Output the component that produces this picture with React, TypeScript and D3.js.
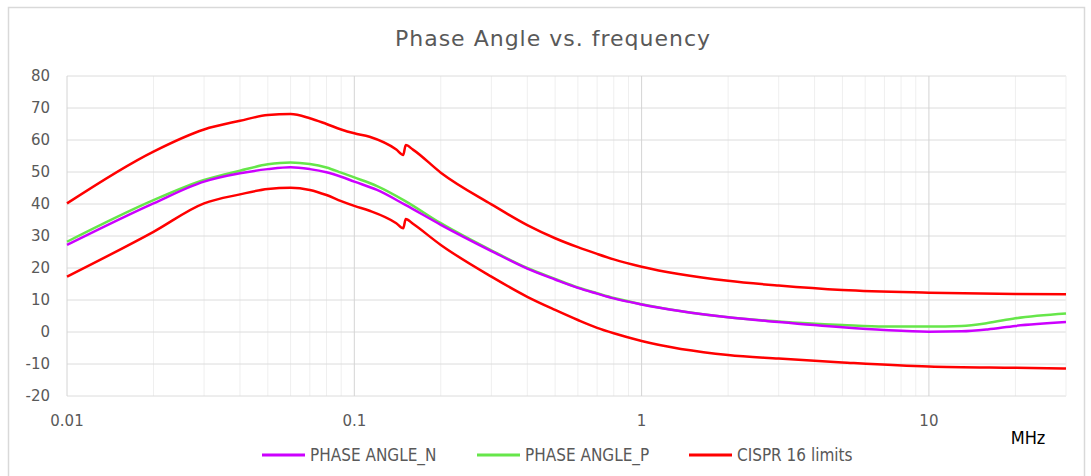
import React from "react";
import * as d3 from "d3";

// ---- data (frequency in MHz, phase angle in degrees) ----
const freqPhase = [0.01, 0.02, 0.03, 0.04, 0.05, 0.06, 0.07, 0.08, 0.09, 0.1, 0.12, 0.15, 0.2, 0.3, 0.4, 0.5, 0.6, 0.7, 0.8, 1, 2, 3, 5, 7, 10, 13, 16, 20, 30];
const phaseN = [27.2, 40.2, 47.0, 49.6, 50.9, 51.5, 50.9, 49.9, 48.5, 47.0, 44.4, 39.8, 33.5, 25.3, 19.8, 16.4, 13.8, 12.0, 10.5, 8.6, 4.6, 3.1, 1.45, 0.6, 0.1, 0.2, 0.8, 1.9, 3.1];
const phaseP = [28.2, 41.2, 47.5, 50.4, 52.4, 53.0, 52.5, 51.4, 49.8, 48.3, 45.6, 41.0, 34.0, 25.5, 20.0, 16.6, 13.9, 12.1, 10.6, 8.7, 4.6, 3.3, 2.2, 1.7, 1.7, 1.9, 2.8, 4.3, 5.8];

const freqLimit = [0.01, 0.02, 0.03, 0.04, 0.05, 0.06, 0.07, 0.08, 0.09, 0.1, 0.113, 0.14, 0.148, 0.151, 0.16, 0.2, 0.3, 0.4, 0.5, 0.6, 0.7, 0.8, 1, 2, 3, 5, 10, 20, 30];
const limitUpper = [40.2, 56.4, 63.3, 66.0, 67.8, 68.1, 66.8, 65.0, 63.3, 62.1, 61.0, 57.0, 55.3, 58.4, 57.0, 49.8, 39.9, 33.4, 29.3, 26.5, 24.4, 22.7, 20.4, 16.0, 14.5, 13.1, 12.3, 11.9, 11.8];
const limitLower = [17.3, 31.3, 40.2, 43.0, 44.7, 45.1, 44.4, 42.8, 40.9, 39.4, 37.9, 34.0, 32.4, 35.3, 33.8, 27.2, 17.3, 11.0, 6.9, 3.75, 1.3, -0.4, -2.8, -7.2, -8.3, -9.5, -10.8, -11.2, -11.4];

const yTicks = [-20, -10, 0, 10, 20, 30, 40, 50, 60, 70, 80];
const xTicks = [0.01, 0.1, 1, 10];
const xTickLabels = ["0.01", "0.1", "1", "10"];
const seriesNames = ["PHASE ANGLE_N", "PHASE ANGLE_P", "CISPR 16 limits"];
const titleText = "Phase Angle vs. frequency";
const unitText = "MHz";

const COLORS = { n: "#cc00ff", p: "#66e64a", limit: "#ff0000" };

export default function App() {
  const W = 1091, H = 476;
  const left = 67, right = 1066, top = 76, bottom = 396;

  const x = d3.scaleLog().domain([0.01, 30]).range([left, right]);
  const y = d3.scaleLinear().domain([-20, 80]).range([bottom, top]);

  // minor grid values
  const minor: number[] = [];
  for (const dec of [0.01, 0.1, 1, 10]) {
    for (let k = 2; k <= 9; k++) {
      const v = dec * k;
      if (v < 30) minor.push(v);
    }
  }

  const line = (xs: number[], ys: number[]) =>
    d3
      .line<number>()
      .x((_, i) => x(xs[i]))
      .y((d) => y(d))
      .curve(d3.curveMonotoneX)(ys) || "";

  const tickFont = "'DejaVu Sans', Verdana, sans-serif";
  const narrowFont = "'Liberation Sans Narrow', 'DejaVu Sans Condensed', 'Arial Narrow', sans-serif";

  const legendItems = [
    { name: seriesNames[0], color: COLORS.n, x0: 262 },
    { name: seriesNames[1], color: COLORS.p, x0: 477 },
    { name: seriesNames[2], color: COLORS.limit, x0: 689 },
  ];

  return (
    <svg width={W} height={H} style={{ position: "absolute", left: 0, top: 0, background: "#fff" }}>
      <rect x={8.5} y={7.5} width={1076} height={480} fill="#fff" stroke="#d9d9d9" strokeWidth={1.5} />
      <text x={553} y={46} textAnchor="middle" fontFamily={tickFont} fontSize={22} letterSpacing={1} fill="#595959">
        {titleText}
      </text>

      {/* minor vertical grid */}
      {minor.map((v, i) => (
        <line key={"mn" + i} x1={x(v)} x2={x(v)} y1={top} y2={bottom} stroke="#efefef" strokeWidth={1} />
      ))}
      {/* horizontal grid */}
      {yTicks.map((t) => (
        <line key={"h" + t} x1={left} x2={right} y1={y(t)} y2={y(t)} stroke="#dcdcdc" strokeWidth={1} />
      ))}
      {/* major vertical grid */}
      {xTicks.map((t) => (
        <line key={"mj" + t} x1={x(t)} x2={x(t)} y1={top} y2={bottom} stroke="#d4d4d4" strokeWidth={1} />
      ))}
      <line x1={right} x2={right} y1={top} y2={bottom} stroke="#efefef" strokeWidth={1} />

      {/* y tick labels */}
      {yTicks.map((t) => (
        <text key={"yl" + t} x={50} y={y(t) + 5} textAnchor="end" fontFamily={tickFont} fontSize={15} fill="#595959">
          {t}
        </text>
      ))}
      {/* x tick labels */}
      {xTicks.map((t, i) => (
        <text key={"xl" + t} x={x(t)} y={426} textAnchor="middle" fontFamily={tickFont} fontSize={15} fill="#595959">
          {xTickLabels[i]}
        </text>
      ))}
      <text x={1028} y={444} textAnchor="middle" fontFamily={narrowFont} fontSize={18} fill="#000">
        {unitText}
      </text>

      {/* series */}
      <path d={line(freqLimit, limitUpper)} fill="none" stroke={COLORS.limit} strokeWidth={2.5} />
      <path d={line(freqLimit, limitLower)} fill="none" stroke={COLORS.limit} strokeWidth={2.5} />
      <path d={line(freqPhase, phaseP)} fill="none" stroke={COLORS.p} strokeWidth={2.5} />
      <path d={line(freqPhase, phaseN)} fill="none" stroke={COLORS.n} strokeWidth={2.5} />

      {/* legend */}
      {legendItems.map((it) => (
        <g key={it.name}>
          <line x1={it.x0} x2={it.x0 + 43} y1={455} y2={455} stroke={it.color} strokeWidth={3} />
          <text x={it.x0 + 48} y={461} fontFamily={narrowFont} fontSize={17} fill="#595959">
            {it.name}
          </text>
        </g>
      ))}
    </svg>
  );
}
